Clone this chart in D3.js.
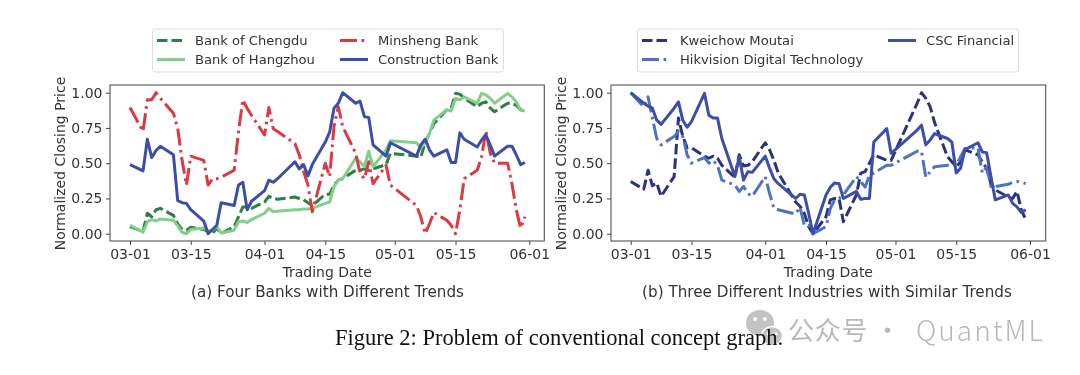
<!DOCTYPE html>
<html><head><meta charset="utf-8">
<script src="https://cdnjs.cloudflare.com/ajax/libs/d3/7.8.5/d3.min.js"></script>
<style>html,body{margin:0;padding:0;background:#fff}svg{display:block;filter:blur(0.35px)}</style>
</head><body><svg id="c" width="1080" height="375"></svg>
<script>
const tradingDates = ["03-01","03-04","03-05","03-06","03-07","03-08","03-11","03-12","03-13","03-14","03-15","03-18","03-19","03-20","03-21","03-22","03-25","03-26","03-27","03-28","03-29","04-01","04-02","04-03","04-04","04-08","04-09","04-10","04-11","04-12","04-15","04-16","04-17","04-18","04-19","04-22","04-23","04-24","04-25","04-26","04-29","04-30","05-06","05-07","05-08","05-09","05-10","05-13","05-14","05-15","05-16","05-17","05-20","05-21","05-22","05-23","05-24","05-27","05-28","05-29","05-30","05-31"];
const tickLabels = ["03-01","03-15","04-01","04-15","05-01","05-15","06-01"];
const yTicks = [0,0.25,0.5,0.75,1];

const bankOfChengdu = [.05,.015,.145,.12,.17,.18,.13,.07,.03,.025,.045,.03,.015,0,.04,0,.05,.12,.19,.19,.18,.225,.265,.25,.245,.26,.25,.24,.22,.20,.28,.28,.345,.38,.39,.45,.45,.46,.45,.46,.49,.57,.55,.54,.65,.71,.78,.88,.89,.995,.99,.96,.90,.925,.935,.89,.865,.925,.925,.91,.88,.88];
const bankOfHangzhou = [.06,.01,.085,.10,.09,.105,.095,.055,.01,0,.03,.04,.02,.025,.05,.005,.025,.085,.09,.08,.10,.145,.18,.155,.16,.17,.17,.175,.175,.18,.215,.225,.335,.38,.39,.535,.51,.475,.585,.475,.595,.66,.645,.605,.65,.71,.805,.88,.87,.96,.95,.97,.925,.995,.985,.96,.925,.995,.97,.935,.875,.87];
const minshengBank = [.895,.725,.95,.95,1,.96,.855,.745,.52,.345,.55,.52,.345,.39,.39,.40,.45,.725,.95,.89,.84,.70,.895,.745,.725,.64,.56,.44,.345,.155,.50,.405,.76,.90,.76,.57,.43,.39,.51,.355,.485,.345,.20,.12,0,.07,.15,.095,.06,0,.17,.39,.45,.545,.73,.57,.50,.50,.355,.17,.04,.12];
const constructionBank = [.49,.445,.67,.54,.59,.62,.56,.235,.22,.215,.17,.09,0,.03,.06,.22,.20,.345,.365,.17,.23,.305,.38,.365,.39,.51,.46,.49,.41,.49,.65,.72,.89,.925,1,.925,.94,.83,.825,.63,.55,.645,.55,.63,.67,.595,.55,.595,.505,.505,.715,.67,.615,.665,.70,.63,.55,.62,.62,.56,.49,.505];

const kweichowMoutai = [.37,.315,.45,.34,.36,.265,.405,.82,.69,.61,.61,.55,.535,.55,.535,.485,.40,.56,.48,.485,.51,.645,.595,.52,.43,.225,.195,.145,.05,0,.12,.24,.25,.25,.085,.275,.43,.44,.50,.56,.52,.52,.925,1,.96,.90,.79,.545,.51,.475,.51,.595,.56,.51,.465,.355,.31,.26,.25,.30,.17,.10];
const hikvision = [1,.90,.97,.82,.675,.63,.69,.725,.69,.56,.50,.54,.50,.52,.485,.38,.345,.30,.335,.285,.265,.405,.285,.18,.17,.14,.19,.06,.06,0,.05,.18,.24,.25,.275,.405,.37,.33,.415,.43,.485,.485,.585,.585,.40,.44,.475,.485,.485,.485,.545,.605,.61,.43,.475,.335,.335,.35,.365,.37,.365,.355];
const cscFinancial = [1,.925,.905,.89,.805,.775,.89,.935,.805,.755,.795,.995,.84,.82,.82,.675,.405,.545,.38,.44,.435,.55,.465,.39,.355,.25,.28,.275,.145,0,.275,.33,.36,.355,.25,.30,.245,.25,.25,.65,.745,.57,.735,.77,.63,.665,.71,.675,.65,.43,.465,.595,.645,.58,.575,.405,.24,.275,.215,.19,.15,.17];

const seriesA = [
  {name:"Bank of Chengdu", values:bankOfChengdu, color:"#2f7f45", dash:"10.5,4"},
  {name:"Bank of Hangzhou", values:bankOfHangzhou, color:"#81cf89", dash:null},
  {name:"Minsheng Bank", values:minshengBank, color:"#dc3a42", dash:"17,4.5,2.7,4.5"},
  {name:"Construction Bank", values:constructionBank, color:"#3c4ea8", dash:null}
];
const seriesB = [
  {name:"Kweichow Moutai", values:kweichowMoutai, color:"#2c3180", dash:"10.5,4"},
  {name:"Hikvision Digital Technology", values:hikvision, color:"#4f74bf", dash:"17,4.5,2.7,4.5"},
  {name:"CSC Financial", values:cscFinancial, color:"#3c4ea8", dash:null}
];

const svg = d3.select("#c");
const parse = s => d3.timeParse("%Y-%m-%d")("2019-" + s);
const FONT = "'DejaVu Sans',sans-serif", TXT = "#333";

function panel(cfg){
  const g = svg.append("g");
  const x = d3.scaleTime().domain([parse("03-01"),parse("06-01")]).range([cfg.x0,cfg.x1]);
  const y = d3.scaleLinear().domain([0,1]).range([233.7,92.7]);
  const line = d3.line().x((d,i)=>x(parse(tradingDates[i]))).y(d=>y(d)).curve(d3.curveLinear);
  cfg.series.forEach(s=>{
    g.append("path").attr("d",line(s.values)).attr("fill","none").attr("stroke",s.color)
      .attr("stroke-width",3).attr("stroke-dasharray",s.dash).attr("stroke-linejoin","round");
  });
  const xAxis = d3.axisBottom(x).tickValues(tickLabels.map(parse)).tickFormat(d3.timeFormat("%m-%d")).tickSize(4).tickPadding(4);
  const yAxis = d3.axisLeft(y).tickValues(yTicks).tickFormat(d3.format(".2f")).tickSize(4).tickPadding(3.5);
  const ax = g.append("g").attr("transform","translate(0,241)").call(xAxis);
  const ay = g.append("g").attr("transform",`translate(${cfg.left},0)`).call(yAxis);
  [ax,ay].forEach(a=>{
    a.select(".domain").remove();
    a.selectAll("line").attr("stroke","#444").attr("stroke-width",1);
    a.selectAll("text").attr("fill",TXT).attr("font-family",FONT).attr("font-size",14);
  });
  g.append("rect").attr("x",cfg.left).attr("y",85).attr("width",cfg.right-cfg.left).attr("height",156)
    .attr("fill","none").attr("stroke","#555").attr("stroke-width",1.1);
  g.append("text").attr("x",(cfg.left+cfg.right)/2).attr("y",277).attr("text-anchor","middle")
    .attr("font-family",FONT).attr("font-size",14).attr("fill",TXT).text("Trading Date");
  g.append("text").attr("x",cfg.capX).attr("y",297).attr("text-anchor","middle")
    .attr("font-family",FONT).attr("font-size",15.2).attr("fill",TXT).text(cfg.caption);
  g.append("text").attr("transform",`translate(${cfg.titleX},163.5) rotate(-90)`).attr("text-anchor","middle")
    .attr("font-family",FONT).attr("font-size",14).attr("fill",TXT).text("Normalized Closing Price");
  const l = cfg.legend;
  g.append("rect").attr("x",l.x).attr("y",29).attr("width",l.w).attr("height",43).attr("rx",2.5)
    .attr("fill","#fff").attr("stroke","#ddd").attr("stroke-width",1);
  cfg.series.forEach((s,i)=>{
    const c = l.items[i];
    g.append("line").attr("x1",c.hx).attr("x2",c.hx+28).attr("y1",c.y).attr("y2",c.y)
      .attr("stroke",s.color).attr("stroke-width",3).attr("stroke-dasharray",s.dash);
    g.append("text").attr("x",c.hx+38).attr("y",c.y+4.7).attr("font-family",FONT).attr("font-size",13.1)
      .attr("fill",TXT).text(s.name);
  });
}

panel({series:seriesA,x0:130,x1:529.3,left:110,right:544.3,titleX:65,capX:327.5,
  caption:"(a) Four Banks with Different Trends",
  legend:{x:152.5,w:351,items:[{hx:157,y:40.5},{hx:157,y:59.5},{hx:340,y:40.5},{hx:340,y:59.5}]}});
panel({series:seriesB,x0:630.7,x1:1030,left:611,right:1045.7,titleX:566,capX:827,
  caption:"(b) Three Different Industries with Similar Trends",
  legend:{x:637.5,w:381,items:[{hx:642,y:40.5},{hx:642,y:59.5},{hx:888,y:40.5}]}});

const wm = svg.append("g").attr("fill","#b4b4b4").attr("opacity",.8);
wm.append("ellipse").attr("cx",760).attr("cy",323).attr("rx",14).attr("ry",13);
wm.append("ellipse").attr("cx",772).attr("cy",336).attr("rx",10.5).attr("ry",9.5).attr("stroke","#fff").attr("stroke-width",1.5);
[[755,319],[765,319]].forEach(p=>svg.append("circle").attr("cx",p[0]).attr("cy",p[1]).attr("r",2).attr("fill","#fff"));
[[768,334],[776,334]].forEach(p=>svg.append("circle").attr("cx",p[0]).attr("cy",p[1]).attr("r",1.5).attr("fill","#fff"));
const wmFont = "'Noto Sans CJK SC','Noto Sans',sans-serif";
svg.append("text").attr("x",788).attr("y",340).attr("font-family",wmFont)
  .attr("font-size",26).attr("fill","#b8b8b8").attr("letter-spacing",.7).text("公众号 ·");
svg.append("text").attr("x",916).attr("y",341).attr("font-family",wmFont).attr("font-weight",300)
  .attr("font-size",28).attr("fill","#b8b8b8").attr("letter-spacing",2).text("QuantML");

svg.append("text").attr("x",335).attr("y",345).attr("font-family","'Liberation Serif',serif")
  .attr("font-size",22.5).attr("fill","#111").text("Figure 2: Problem of conventional concept graph.");
</script></body></html>
